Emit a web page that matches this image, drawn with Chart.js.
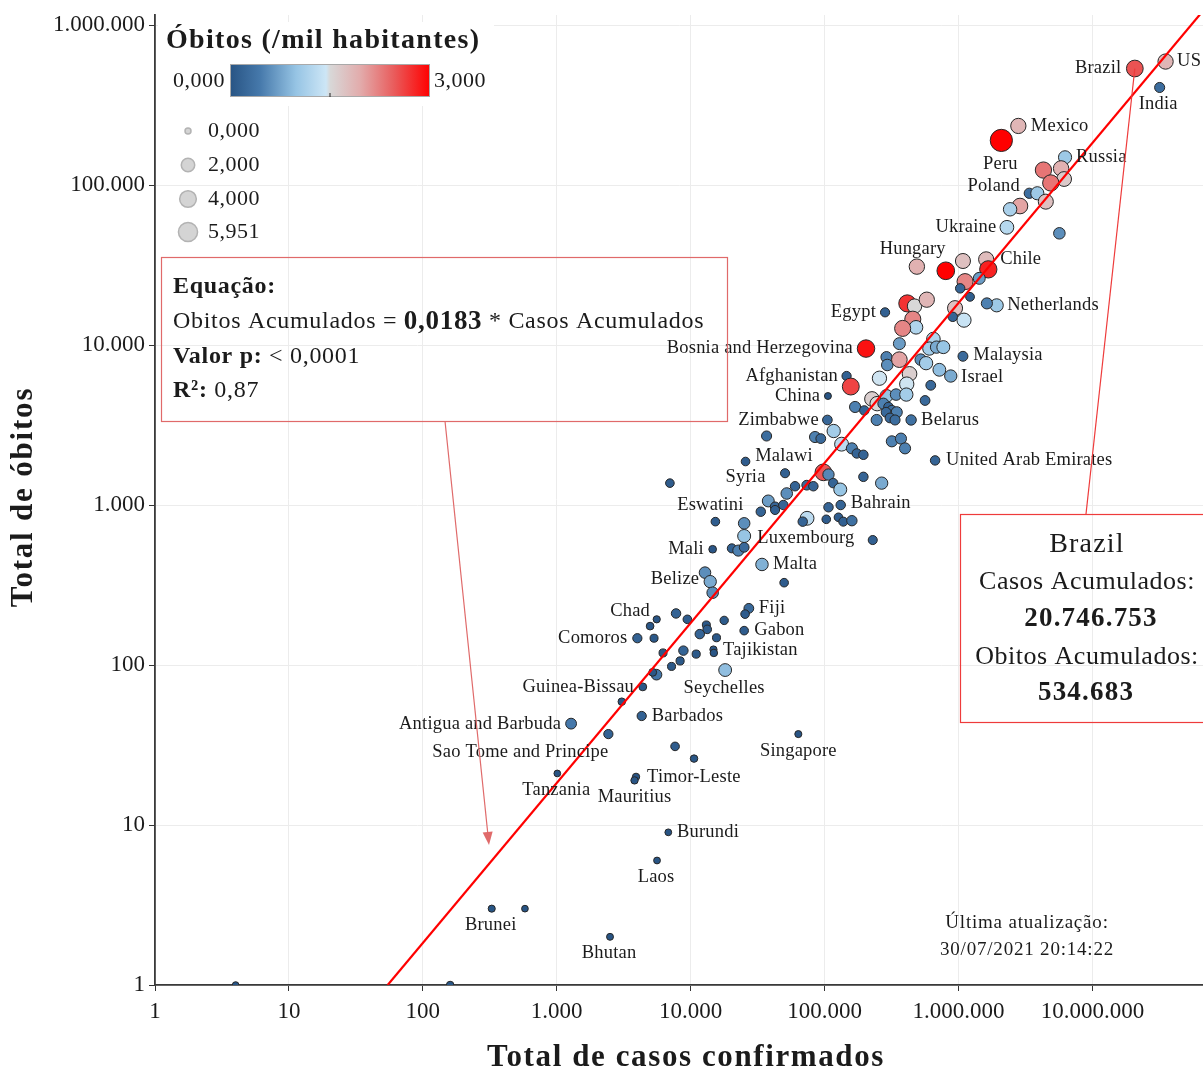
<!DOCTYPE html>
<html>
<head>
<meta charset="utf-8">
<script src="https://cdn.jsdelivr.net/npm/chart.js@4/dist/chart.umd.min.js"></script>
<style>
  html, body { margin: 0; padding: 0; background: #ffffff; }
  #wrap { width: 1203px; height: 1071px; }
</style>
</head>
<body>
<div id="wrap"><canvas id="c" width="1203" height="1071"></canvas></div>
<script>
// ---- data: accumulated COVID-19 cases and deaths per country (30/07/2021) ----
const countries = [
  'US','Brazil','India','Mexico','Peru','Russia','','','','',
  '','','','Poland','','Ukraine','','','Hungary','',
  'Chile','','','','','','Egypt','Netherlands','','',
  '','','','','','','','','','Bosnia and Herzegovina',
  '','','','','Malaysia','','','','','',
  '','Israel','Afghanistan','','','','','','China','',
  '','','','','','','','','','',
  '','','','','','Belarus','Zimbabwe','','','',
  '','','','','','','','','','United Arab Emirates',
  'Syria','Malawi','','','','','','','','',
  '','','','','','','','','Bahrain','',
  '','','','','','','Eswatini','','Luxembourg','Mali',
  '','','','Malta','','','Belize','','Chad','',
  '','Comoros','','','','','','','','Fiji',
  '','Gabon','','','','Tajikistan','','','','Seychelles',
  '','','Guinea-Bissau','','Barbados','Antigua and Barbuda','Sao Tome and Principe','','','Singapore',
  'Tanzania','Timor-Leste','Mauritius','Burundi','Laos','Brunei','','Bhutan','',''
];
const totalCases = [
  35200000, 20746753, 31800000, 2800000, 2090000, 6250000, 4310000, 5840000, 6150000, 4890000,
  3380000, 3880000, 4490000, 2880000, 2430000, 2300000, 5670000, 489000, 804000, 1080000,
  1610000, 1670000, 1120000, 1430000, 1030000, 1220000, 283000, 1930000, 1630000, 415000,
  470000, 580000, 943000, 907000, 1100000, 456000, 482000, 383000, 362000, 204000,
  650000, 606000, 686000, 771000, 1080000, 290000, 294000, 362000, 523000, 573000,
  720000, 876000, 146000, 157000, 257000, 431000, 411000, 621000, 106000, 226000,
  247000, 290000, 342000, 408000, 563000, 169000, 198000, 275000, 300000, 318000,
  346000, 288000, 308000, 336000, 245000, 443000, 105000, 117000, 36900, 84900,
  93700, 134000, 160000, 174000, 195000, 318000, 372000, 399000, 195000, 669000,
  25700, 50700, 98000, 107000, 116000, 131000, 267000, 60200, 73600, 82500,
  7000, 52200, 38000, 42700, 49200, 42700, 33400, 107000, 132000, 74000,
  68700, 103000, 127000, 138000, 160000, 229000, 15300, 25100, 25100, 14600,
  20300, 22700, 25100, 34100, 49900, 12800, 14000, 14600, 5580, 4980,
  5330, 4000, 7780, 9450, 13100, 13300, 11700, 15600, 17800, 27200,
  25500, 25100, 6220, 8830, 11000, 14800, 14900, 8340, 7200, 18100,
  5560, 5210, 4390, 3060, 4310, 1280, 2430, 7650, 10600, 63700,
  1010, 3910, 3810, 6810, 5610, 327, 579, 2500, 4, 160
];
const totalDeaths = [
  591000, 534683, 407000, 234000, 190000, 149000, 124000, 127000, 109000, 103000,
  88800, 88800, 78700, 73900, 70500, 54400, 49900, 30900, 29100, 33500,
  34300, 29700, 24900, 26100, 22600, 20000, 16000, 17700, 18200, 18200,
  17500, 19200, 17000, 15000, 14300, 14500, 12900, 12700, 10200, 9500,
  10900, 9500, 9700, 9700, 8500, 8400, 7500, 8100, 8100, 7700,
  7000, 6400, 6400, 5500, 6200, 6600, 5700, 5600, 4800, 4600,
  4300, 4800, 4900, 4900, 4500, 4100, 3900, 4300, 4100, 3900,
  3800, 3800, 3500, 3400, 3400, 3400, 3400, 2900, 2700, 2660,
  2600, 2400, 2260, 2100, 2060, 2500, 2600, 2260, 1500, 1900,
  1870, 1580, 1600, 1550, 1370, 1250, 1370, 1310, 1330, 1310,
  1370, 1180, 1060, 976, 1000, 931, 908, 968, 1000, 826,
  787, 814, 838, 787, 798, 604, 787, 768, 640, 529,
  536, 519, 544, 425, 327, 378, 332, 283, 193, 175,
  147, 147, 210, 193, 178, 167, 156, 148, 190, 226,
  208, 164, 119, 123, 117, 125, 119, 106, 98, 93,
  87, 90, 73, 59, 48, 43, 37, 31, 26, 37,
  21, 20, 19, 9, 6, 3, 3, 2, 1, 1
];
// deaths per thousand inhabitants (colour and size of each circle)
const deathsPerThousand = [
  1.85, 2.51, 0.30, 1.85, 5.951, 1.05, 2.30, 1.90, 1.65, 2.30,
  0.33, 1.05, 1.75, 2.00, 1.15, 1.25, 0.60, 1.90, 3.00, 1.75,
  1.80, 2.80, 2.20, 0.70, 0.20, 0.12, 0.16, 1.05, 0.50, 2.70,
  1.50, 1.85, 1.75, 0.20, 1.40, 2.20, 1.20, 2.20, 0.70, 2.90,
  1.20, 1.10, 0.80, 1.00, 0.27, 0.50, 0.60, 2.00, 0.60, 1.10,
  0.95, 0.80, 0.17, 2.60, 1.45, 1.60, 1.45, 0.25, 0.003, 1.60,
  1.50, 1.00, 0.60, 1.10, 0.25, 0.50, 0.20, 0.50, 0.20, 0.30,
  0.50, 0.25, 0.25, 0.30, 0.50, 0.35, 0.23, 1.10, 0.30, 0.50,
  0.25, 1.30, 0.50, 0.20, 0.20, 0.50, 0.50, 0.50, 0.20, 0.20,
  0.10, 0.15, 2.50, 0.55, 0.20, 1.00, 0.80, 0.20, 0.25, 0.20,
  0.10, 0.60, 0.70, 0.20, 0.20, 0.15, 0.20, 0.20, 0.20, 1.30,
  0.20, 0.10, 0.10, 0.15, 0.35, 0.15, 0.10, 0.60, 1.00, 0.03,
  0.15, 0.50, 0.25, 0.85, 0.10, 0.60, 0.80, 0.60, 0.01, 0.03,
  0.05, 0.17, 0.20, 0.10, 0.05, 0.10, 0.20, 0.05, 0.08, 0.25,
  0.10, 0.10, 0.05, 0.20, 0.06, 0.01, 0.02, 0.06, 0.05, 0.95,
  0.40, 0.04, 0.04, 0.02, 0.17, 0.44, 0.17, 0.10, 0.02, 0.006,
  0.0003, 0.014, 0.015, 0.001, 0.001, 0.007, 0.0003, 0.003, 0.0, 0.02
];

// axis ticks
const xTicks = [1, 10, 100, 1000, 10000, 100000, 1000000, 10000000];
const yTicks = [1, 10, 100, 1000, 10000, 100000, 1000000];
const xRange = [1, 67000000];
const yRange = [1, 1155000];

// fitted model
const slope = 0.0183;
const pValueText = '< 0,0001';
const rSquared = 0.87;

// legends
const rateRange = [0, 3];
const sizeLegendValues = [0, 2, 4, 5.951];
const highlighted = 'Brazil';
const lastUpdate = '30/07/2021 20:14:22';

// ---- styling ----
const SERIF = '"Liberation Serif", "DejaVu Serif", "Times New Roman", serif';
const fnt = (size, bold) => (bold ? 'bold ' : '') + size + 'px ' + SERIF;
const TEXT = '#1b1b1b';

const colorStops = [
  [0.00, [40, 84, 132]],
  [0.15, [70, 121, 171]],
  [0.33, [150, 196, 228]],
  [0.48, [205, 230, 246]],
  [0.50, [216, 216, 216]],
  [0.65, [226, 172, 172]],
  [0.82, [233, 92, 92]],
  [1.00, [255, 0, 0]]
];
function colorFor(v) {
  let t = (v - rateRange[0]) / (rateRange[1] - rateRange[0]);
  t = Math.max(0, Math.min(1, t));
  for (let i = 1; i < colorStops.length; i++) {
    const [t1, c1] = colorStops[i];
    const [t0, c0] = colorStops[i - 1];
    if (t <= t1) {
      const f = (t - t0) / (t1 - t0 || 1);
      const c = c0.map((a, k) => Math.round(a + (c1[k] - a) * f));
      return 'rgb(' + c.join(',') + ')';
    }
  }
  return 'rgb(255,0,0)';
}
const radiusFor = v => 3.3 + 3.2 * Math.sqrt(Math.max(0, v));

function fmtInt(n) {
  return String(Math.round(n)).replace(/\B(?=(\d{3})+(?!\d))/g, '.');
}
function fmtDec(n, d) { return n.toFixed(d).replace('.', ','); }

// label placement around each named circle: [dx, dy, align]
const labelPlacement = {
  'US': [11.5, 0, 'left'], 'Brazil': [-13.5, 0, 'right'], 'India': [-1.5, 16.5, 'center'],
  'Mexico': [12.5, 0, 'left'], 'Peru': [-1, 24, 'center'], 'Russia': [11, 0, 'left'],
  'Poland': [0, -20, 'right'], 'Ukraine': [-10.5, 0, 'right'], 'Hungary': [0, -22, 'right'],
  'Chile': [14, 0, 'left'], 'Netherlands': [10.5, 0, 'left'], 'Egypt': [-9, 0, 'right'],
  'Bosnia and Herzegovina': [-13, 0, 'right'], 'Malaysia': [10.3, -1, 'left'],
  'Israel': [10.3, 1, 'left'], 'Afghanistan': [-8.5, 0, 'right'], 'China': [-7.7, 0, 'right'],
  'Zimbabwe': [-8.5, 0, 'right'], 'Belarus': [10, 0, 'left'],
  'United Arab Emirates': [11, 0, 'left'], 'Malawi': [-1, -17, 'center'],
  'Syria': [0, 16, 'center'], 'Eswatini': [-5, -17, 'center'], 'Bahrain': [10, -2, 'left'],
  'Luxembourg': [13, 2, 'left'], 'Mali': [-8.7, 0, 'right'], 'Malta': [11, 0, 'left'],
  'Belize': [-11, -2, 'right'], 'Chad': [-6.7, -8, 'right'], 'Fiji': [10, 0, 'left'],
  'Comoros': [-10, 0, 'right'], 'Gabon': [10, 0, 'left'], 'Tajikistan': [9.5, 1, 'left'],
  'Guinea-Bissau': [-8.7, 0, 'right'], 'Seychelles': [-1, 18, 'center'],
  'Barbados': [10, 0, 'left'], 'Antigua and Barbuda': [-10, 0, 'right'],
  'Sao Tome and Principe': [0, 18, 'right'], 'Singapore': [0, 17, 'center'],
  'Timor-Leste': [11, 0, 'left'], 'Tanzania': [-1, 17, 'center'], 'Mauritius': [0, 16.5, 'center'],
  'Burundi': [8.7, 0, 'left'], 'Laos': [-1, 16.5, 'center'], 'Brunei': [-1, 16, 'center'],
  'Bhutan': [-1, 16, 'center']
};

function setSpacing(ctx, px) {
  if ('letterSpacing' in ctx) ctx.letterSpacing = px + 'px';
}
function richLine(ctx, x, y, parts) {
  let cx = x;
  for (const [text, f] of parts) {
    ctx.font = f;
    ctx.fillText(text, cx, y);
    cx += ctx.measureText(text).width;
  }
}

const decor = {
  id: 'decor',
  // let the plot run to the right edge of the canvas
  afterLayout(chart) {
    const ca = chart.chartArea;
    const gap = chart.width - ca.right;
    if (gap > 0.5) {
      ca.right = chart.width;
      ca.width = ca.right - ca.left;
      const xs = chart.scales.x;
      xs.right = chart.width;
      xs.width = xs.right - xs.left;
      xs.configure();
    }
  },
  afterDatasetsDraw(chart) {
    const ctx = chart.ctx;
    const meta = chart.getDatasetMeta(0);
    ctx.save();
    ctx.font = fnt(18.5);
    setSpacing(ctx, 0.2);
    ctx.fillStyle = TEXT;
    ctx.textBaseline = 'middle';
    countries.forEach((name, i) => {
      const p = labelPlacement[name];
      if (!p) return;
      const el = meta.data[i];
      ctx.textAlign = p[2];
      ctx.fillText(name, el.x + p[0], el.y + p[1]);
    });
    ctx.restore();
  },
  afterDraw(chart) {
    const ctx = chart.ctx;
    const xs = chart.scales.x, ys = chart.scales.y;
    ctx.save();

    // axis titles
    ctx.fillStyle = TEXT;
    ctx.textAlign = 'center';
    ctx.textBaseline = 'middle';
    ctx.font = fnt(31, true);
    setSpacing(ctx, 1.6);
    ctx.fillText('Total de casos confirmados', 686, 1058);
    ctx.save();
    ctx.translate(24, 497);
    ctx.rotate(-Math.PI / 2);
    setSpacing(ctx, 1.8);
    ctx.fillText('Total de óbitos', 0, 0);
    ctx.restore();

    // colour legend
    ctx.fillStyle = '#ffffff';
    ctx.fillRect(158, 22, 336, 84);
    ctx.fillStyle = TEXT;
    ctx.textAlign = 'left';
    ctx.font = fnt(28, true);
    setSpacing(ctx, 1.3);
    ctx.fillText('Óbitos (/mil habitantes)', 166, 41);
    setSpacing(ctx, 0.5);
    const bx = 230, by = 64, bw = 200, bh = 33;
    const g = ctx.createLinearGradient(bx, 0, bx + bw, 0);
    colorStops.forEach(([t, c]) => g.addColorStop(t, 'rgb(' + c.join(',') + ')'));
    ctx.fillStyle = g;
    ctx.fillRect(bx, by, bw, bh);
    ctx.strokeStyle = '#a9a9a9';
    ctx.lineWidth = 1;
    ctx.strokeRect(bx + 0.5, by + 0.5, bw - 1, bh - 1);
    ctx.strokeStyle = '#222';
    ctx.beginPath();
    ctx.moveTo(bx + bw / 2, by + bh - 4);
    ctx.lineTo(bx + bw / 2, by + bh);
    ctx.stroke();
    ctx.fillStyle = TEXT;
    ctx.font = fnt(22);
    ctx.textAlign = 'right';
    ctx.fillText(fmtDec(rateRange[0], 3), 225, 81);
    ctx.textAlign = 'left';
    ctx.fillText(fmtDec(rateRange[1], 3), 434, 81);

    // size legend
    const rowsY = [131, 165, 199, 232];
    sizeLegendValues.forEach((v, k) => {
      const r = v === 0 ? 3 : radiusFor(v) * 0.86;
      ctx.beginPath();
      ctx.arc(188, rowsY[k], r, 0, Math.PI * 2);
      ctx.fillStyle = '#d4d4d4';
      ctx.fill();
      ctx.strokeStyle = '#b3b3b3';
      ctx.lineWidth = 1.5;
      ctx.stroke();
      ctx.fillStyle = TEXT;
      ctx.font = fnt(22);
      ctx.textAlign = 'left';
      ctx.fillText(fmtDec(v, 3), 208, rowsY[k]);
    });

    // regression summary box
    const boxColor = '#e06a6a';
    ctx.strokeStyle = boxColor;
    ctx.lineWidth = 1.2;
    ctx.strokeRect(161.5, 257.5, 566, 164);
    ctx.fillStyle = TEXT;
    ctx.textAlign = 'left';
    setSpacing(ctx, 0.7);
    richLine(ctx, 173, 287, [['Equação:', fnt(24, true)]]);
    richLine(ctx, 173, 322, [['Obitos Acumulados = ', fnt(24)], [fmtDec(slope, 4), fnt(27, true)], [' * Casos Acumulados', fnt(24)]]);
    richLine(ctx, 173, 357, [['Valor p: ', fnt(24, true)], [pValueText, fnt(24)]]);
    richLine(ctx, 173, 391, [['R²: ', fnt(24, true)], [fmtDec(rSquared, 2), fnt(24)]]);

    // arrow from the box to the fitted line
    const ax0 = 445, ay0 = 421;
    const ax1 = xs.getPixelForValue(312), ay1 = ys.getPixelForValue(7.5);
    const ang = Math.atan2(ay1 - ay0, ax1 - ax0);
    ctx.strokeStyle = boxColor;
    ctx.fillStyle = boxColor;
    ctx.lineWidth = 1.2;
    ctx.beginPath();
    ctx.moveTo(ax0, ay0);
    ctx.lineTo(ax1 - 10 * Math.cos(ang), ay1 - 10 * Math.sin(ang));
    ctx.stroke();
    ctx.beginPath();
    ctx.moveTo(ax1, ay1);
    ctx.lineTo(ax1 - 13 * Math.cos(ang) + 5 * Math.sin(ang), ay1 - 13 * Math.sin(ang) - 5 * Math.cos(ang));
    ctx.lineTo(ax1 - 13 * Math.cos(ang) - 5 * Math.sin(ang), ay1 - 13 * Math.sin(ang) + 5 * Math.cos(ang));
    ctx.closePath();
    ctx.fill();

    // highlighted country call-out
    const hi = countries.indexOf(highlighted);
    const hp = chart.getDatasetMeta(0).data[hi];
    ctx.strokeStyle = '#ee3b3b';
    ctx.lineWidth = 1.2;
    ctx.beginPath();
    ctx.moveTo(hp.x, hp.y);
    ctx.lineTo(1086, 514);
    ctx.stroke();
    ctx.strokeRect(960.5, 514.5, 260, 208);
    ctx.fillStyle = TEXT;
    ctx.textAlign = 'center';
    ctx.font = fnt(28);
    setSpacing(ctx, 1.2);
    ctx.fillText(highlighted, 1087, 545);
    ctx.font = fnt(26);
    setSpacing(ctx, 0.5);
    ctx.fillText('Casos Acumulados:', 1087, 582);
    ctx.fillText('Obitos Acumulados:', 1087, 657);
    ctx.font = fnt(27, true);
    setSpacing(ctx, 1.2);
    ctx.fillText(fmtInt(totalCases[hi]), 1091, 619);
    ctx.fillText(fmtInt(totalDeaths[hi]), 1086, 693);

    // update stamp
    ctx.font = fnt(19);
    setSpacing(ctx, 0.8);
    ctx.fillText('Última atualização:', 1027, 923);
    ctx.fillText(lastUpdate, 1027, 950);

    ctx.restore();
  }
};

const points = totalCases.map((c, i) => ({ x: c, y: totalDeaths[i] }));
const fitLine = [
  { x: 1 / slope, y: 1 },
  { x: xRange[1], y: slope * xRange[1] }
];

const noEdgePadding = s => {
  s.paddingLeft = 0; s.paddingRight = 0; s.paddingTop = 0; s.paddingBottom = 0;
};

new Chart(document.getElementById('c'), {
  type: 'scatter',
  data: {
    datasets: [
      {
        type: 'scatter',
        data: points,
        order: 1,
        pointRadius: ctx => radiusFor(deathsPerThousand[ctx.dataIndex]),
        pointHoverRadius: ctx => radiusFor(deathsPerThousand[ctx.dataIndex]),
        pointBackgroundColor: ctx => colorFor(deathsPerThousand[ctx.dataIndex]),
        pointBorderColor: '#262626',
        pointBorderWidth: 1
      },
      {
        type: 'line',
        data: fitLine,
        order: 0,
        borderColor: '#ff0000',
        borderWidth: 2.2,
        pointRadius: 0,
        fill: false
      }
    ]
  },
  options: {
    responsive: false,
    animation: false,
    devicePixelRatio: 1,
    layout: { padding: { top: 15, right: 0, bottom: 0, left: 0 } },
    plugins: { legend: { display: false }, tooltip: { enabled: false } },
    scales: {
      x: {
        type: 'logarithmic',
        min: xRange[0],
        max: xRange[1],
        afterBuildTicks: s => { s.ticks = xTicks.map(v => ({ value: v })); },
        afterFit: s => { s.height = 86; noEdgePadding(s); },
        grid: { color: '#ececec', lineWidth: 1, tickColor: '#333', tickLength: 6 },
        border: { display: true, color: '#3a3a3a', width: 1.8 },
        ticks: {
          autoSkip: false, maxRotation: 0, padding: 7,
          font: { family: SERIF, size: 23 }, color: TEXT,
          callback: v => fmtInt(v)
        }
      },
      y: {
        type: 'logarithmic',
        min: yRange[0],
        max: yRange[1],
        afterBuildTicks: s => { s.ticks = yTicks.map(v => ({ value: v })); },
        afterFit: s => { s.width = 155; noEdgePadding(s); },
        grid: { color: '#ececec', lineWidth: 1, tickColor: '#333', tickLength: 6 },
        border: { display: true, color: '#3a3a3a', width: 1.8 },
        ticks: {
          autoSkip: false, padding: 4,
          font: { family: SERIF, size: 23 }, color: TEXT,
          callback: v => fmtInt(v)
        }
      }
    }
  },
  plugins: [decor]
});
</script>
</body>
</html>
